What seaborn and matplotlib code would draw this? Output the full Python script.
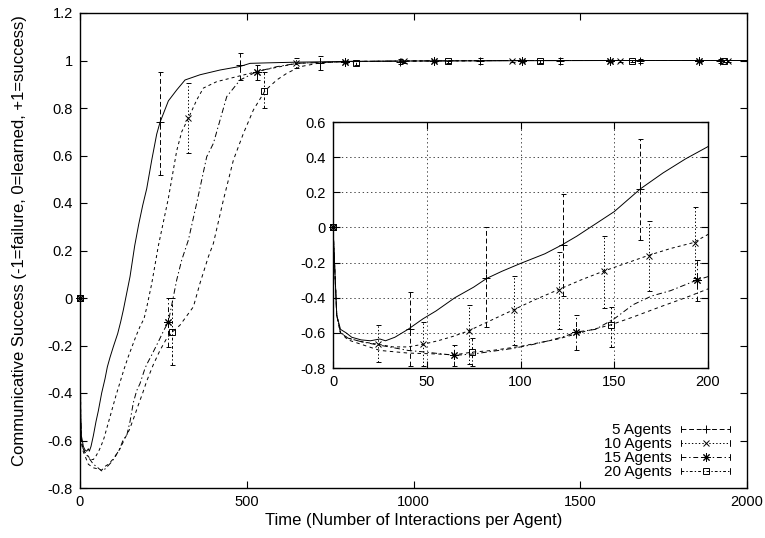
import numpy as np
import matplotlib
matplotlib.use("Agg")
import matplotlib.pyplot as plt
import seaborn as sns
from matplotlib.lines import Line2D
from matplotlib.legend_handler import HandlerLine2D

# ---- averaged curves (time, communicative success) ----
t5 = [0, 1, 2, 4, 7, 10, 15, 20, 25, 28, 33, 40, 48, 55, 65, 75, 82, 90, 100, 113,
      122, 130, 140, 150, 164, 176, 188, 200, 215, 230, 240, 265, 290, 315, 360, 420,
      480, 510, 560, 650, 800, 1000, 1300, 1600, 2000]
y5 = [0, -0.25, -0.5, -0.58, -0.6, -0.625, -0.64, -0.645, -0.635, -0.645, -0.625, -0.58,
      -0.52, -0.475, -0.40, -0.34, -0.29, -0.25, -0.205, -0.15, -0.10, -0.05, 0.02, 0.09,
      0.22, 0.31, 0.39, 0.46, 0.58, 0.69, 0.74, 0.83, 0.876, 0.918, 0.94, 0.96, 0.975,
      0.988, 0.99, 0.993, 0.996, 0.998, 0.999, 1.0, 1.0]

t10 = [0, 1, 2, 4, 8, 15, 24, 32, 40, 48, 56, 64, 72, 84, 96, 108, 120, 132, 144, 156,
       168, 180, 192, 200, 215, 235, 265, 290, 305, 325, 350, 370, 410, 470, 550, 650,
       800, 1000, 1300, 1600, 2000]
y10 = [0, -0.25, -0.5, -0.6, -0.63, -0.65, -0.665, -0.68, -0.68, -0.665, -0.645, -0.62,
       -0.59, -0.53, -0.47, -0.41, -0.355, -0.30, -0.25, -0.205, -0.16, -0.12, -0.087,
       -0.04, 0.06, 0.22, 0.42, 0.62, 0.70, 0.757, 0.834, 0.884, 0.911, 0.932, 0.96,
       0.988, 0.995, 0.998, 1.0, 1.0, 1.0]

t15 = [0, 1, 2, 4, 8, 15, 22, 30, 40, 50, 58, 65, 75, 85, 95, 105, 115, 122, 130, 140,
       150, 160, 170, 180, 194, 200, 215, 235, 250, 265, 290, 305, 325, 350, 380, 400,
       440, 480, 530, 590, 650, 800, 1000, 1300, 1600, 2000]
y15 = [0, -0.25, -0.5, -0.6, -0.63, -0.65, -0.665, -0.68, -0.70, -0.71, -0.72, -0.728,
       -0.72, -0.705, -0.69, -0.67, -0.645, -0.625, -0.595, -0.58, -0.52, -0.44, -0.39,
       -0.36, -0.30, -0.28, -0.24, -0.184, -0.14, -0.10, 0.076, 0.16, 0.244, 0.40, 0.595,
       0.651, 0.848, 0.918, 0.953, 0.974, 0.988, 0.996, 0.998, 1.0, 1.0, 1.0]

t20 = [0, 1, 2, 4, 8, 15, 25, 40, 55, 65, 74, 85, 100, 120, 135, 148, 160, 175, 188,
       200, 220, 240, 260, 278, 300, 340, 360, 385, 400, 430, 460, 490, 520, 555, 590,
       620, 660, 720, 800, 1000, 1300, 1600, 2000]
y20 = [0, -0.25, -0.5, -0.6, -0.64, -0.665, -0.70, -0.715, -0.72, -0.725, -0.71, -0.70,
       -0.677, -0.635, -0.59, -0.555, -0.51, -0.45, -0.40, -0.35, -0.28, -0.22, -0.17,
       -0.142, -0.114, -0.037, 0.063, 0.174, 0.23, 0.413, 0.581, 0.693, 0.792, 0.873,
       0.918, 0.946, 0.974, 0.99, 0.996, 0.998, 1.0, 1.0, 1.0]

# ---- error bar samples, main plot ----
e5_t = [0, 240, 480, 720, 960, 1200, 1440, 1680, 1920]
e5_y = [0, 0.74, 0.98, 0.99, 0.995, 0.997, 0.998, 0.999, 1.0]
e5_lo = [0, 0.518, 0.918, 0.96, 0.985, 0.985, 0.985, 0.99, 0.99]
e5_hi = [0, 0.953, 1.03, 1.02, 1.008, 1.01, 1.01, 1.007, 1.007]

e10_t = [0, 324, 648, 972, 1296, 1620, 1944]
e10_y = [0, 0.757, 0.988, 0.996, 0.998, 0.999, 1.0]
e10_lo = [0, 0.609, 0.97, 0.99, 0.993, 0.995, 0.995]
e10_hi = [0, 0.904, 1.01, 1.0, 1.003, 1.003, 1.003]

e15_t = [0, 265, 530, 795, 1060, 1325, 1590, 1855]
e15_y = [0, -0.10, 0.953, 0.995, 0.997, 0.998, 0.999, 1.0]
e15_lo = [0, -0.205, 0.918, 0.99, 0.993, 0.995, 0.995, 0.995]
e15_hi = [0, 0.0, 0.98, 1.0, 1.0, 1.002, 1.002, 1.003]

e20_t = [0, 276, 552, 828, 1104, 1380, 1656, 1932]
e20_y = [0, -0.142, 0.873, 0.99, 0.996, 0.998, 0.999, 1.0]
e20_lo = [0, -0.28, 0.80, 0.98, 0.99, 0.99, 0.995, 0.995]
e20_hi = [0, 0.0, 0.953, 1.0, 1.0, 1.003, 1.003, 1.003]

# ---- error bar samples, inset ----
i5_t = [0, 40.9, 81.8, 122.7, 163.6]
i5_y = [0, -0.578, -0.29, -0.10, 0.22]
i5_lo = [0, -0.79, -0.565, -0.39, -0.07]
i5_hi = [0, -0.365, 0.0, 0.19, 0.505]

i10_t = [0, 24.1, 48.2, 72.3, 96.4, 120.5, 144.6, 168.7, 192.8]
i10_y = [0, -0.665, -0.665, -0.59, -0.47, -0.355, -0.25, -0.16, -0.087]
i10_lo = [0, -0.767, -0.79, -0.78, -0.67, -0.58, -0.46, -0.36, -0.29]
i10_hi = [0, -0.557, -0.54, -0.44, -0.275, -0.14, -0.047, 0.038, 0.117]

i15_t = [0, 64.7, 129.4, 194.1]
i15_y = [0, -0.728, -0.595, -0.30]
i15_lo = [0, -0.79, -0.695, -0.42]
i15_hi = [0, -0.67, -0.50, -0.185]

i20_t = [0, 74, 148]
i20_y = [0, -0.71, -0.555]
i20_lo = [0, -0.79, -0.68]
i20_hi = [0, -0.63, -0.45]

labels = ["5 Agents", "10 Agents", "15 Agents", "20 Agents"]
main_yticks = [-0.8, -0.6, -0.4, -0.2, 0, 0.2, 0.4, 0.6, 0.8, 1, 1.2]
inset_yticks = [-0.8, -0.6, -0.4, -0.2, 0, 0.2, 0.4, 0.6]

curves = [(t5, y5), (t10, y10), (t15, y15), (t20, y20)]
main_err = [(e5_t, e5_y, e5_lo, e5_hi), (e10_t, e10_y, e10_lo, e10_hi),
            (e15_t, e15_y, e15_lo, e15_hi), (e20_t, e20_y, e20_lo, e20_hi)]
inset_err = [(i5_t, i5_y, i5_lo, i5_hi), (i10_t, i10_y, i10_lo, i10_hi),
             (i15_t, i15_y, i15_lo, i15_hi), (i20_t, i20_y, i20_lo, i20_hi)]

curve_ls = ["-", (0, (2.2, 2.2)), (0, (4, 2, 1, 2)), (0, (2.5, 2.5))]
err_ls = [(0, (3.5, 2)), (0, (1, 1.5)), (0, (3.5, 2, 1, 2)), (0, (2, 1.5, 1, 1.5))]
markers = ["+", "x", (8, 2, 0), "s"]
msizes = [6, 5, 6, 4.5]

sns.set_theme(style="white")
plt.rcParams['font.family'] = ['Liberation Sans', 'DejaVu Sans']
plt.rcParams['font.size'] = 10.5
plt.rcParams['axes.unicode_minus'] = False
plt.rcParams['lines.scale_dashes'] = False
for k in ['text.color', 'axes.labelcolor', 'xtick.color', 'ytick.color']:
    plt.rcParams[k] = 'black'

fig = plt.figure(figsize=(7.65, 5.38), dpi=100)
ax = fig.add_axes([80 / 765, 50 / 538, 667 / 765, 475 / 538])
ax_in = fig.add_axes([333 / 765, 170 / 538, 375 / 765, 246 / 538])


def draw(a, errs):
    for i, (t, y) in enumerate(curves):
        sns.lineplot(x=t, y=y, ax=a, color="black", lw=0.7, linestyle=curve_ls[i], sort=False)
    for i, (et, ey, elo, ehi) in enumerate(errs):
        et = np.array(et); ey = np.array(ey)
        yerr = [ey - np.array(elo), np.array(ehi) - ey]
        eb = a.errorbar(et, ey, yerr=yerr, fmt="none", ecolor="black", elinewidth=0.7,
                        capsize=1.8, capthick=0.7)
        eb[2][0].set_linestyle(err_ls[i])
        a.plot(et, ey, ls="none", marker=markers[i], ms=msizes[i], mec="black",
               mfc="none", mew=0.7, clip_on=False, zorder=5)


draw(ax, main_err)
draw(ax_in, inset_err)

for a in (ax, ax_in):
    for s in a.spines.values():
        s.set_visible(True)
        s.set_color("black")
        s.set_linewidth(1.0)
    a.tick_params(direction="in", length=4.8, width=0.8, top=True, right=True,
                  bottom=True, left=True, labelsize=10.5, pad=5, colors="black")
    a.set_facecolor("white")

ax.set_xlim(0, 2000)
ax.set_ylim(-0.8, 1.2)
ax.set_xticks([0, 500, 1000, 1500, 2000])
ax.set_yticks(main_yticks)
ax.set_yticklabels(["%g" % v for v in main_yticks])

ax_in.set_xlim(0, 200)
ax_in.set_ylim(-0.8, 0.6)
ax_in.set_xticks([0, 50, 100, 150, 200])
ax_in.set_yticks(inset_yticks)
ax_in.set_yticklabels(["%g" % v for v in inset_yticks])
ax_in.grid(True, linestyle=(0, (1, 2)), color="black", lw=0.5)
ax_in.set_axisbelow(True)

ax.set_xlabel("Time (Number of Interactions per Agent)")
ax.set_ylabel("Communicative Success (-1=failure, 0=learned, +1=success)")
ax.xaxis.label.set_va("center")
ax.yaxis.label.set_va("center")
ax.xaxis.set_label_coords(0.5, -33 / 475)
ax.yaxis.set_label_coords(-60 / 667, 0.52)


class CapHandler(HandlerLine2D):
    def create_artists(self, legend, orig_handle, xdescent, ydescent, width, height,
                       fontsize, trans):
        arts = super().create_artists(legend, orig_handle, xdescent, ydescent, width,
                                      height, fontsize, trans)
        y = height / 2 - ydescent
        h = 0.3 * height
        for x in (-xdescent, -xdescent + width):
            arts.append(Line2D([x, x], [y - h, y + h], color="black", lw=0.7,
                               transform=trans))
        return arts


handles = [Line2D([], [], color="black", lw=0.7, ls=err_ls[i], marker=markers[i],
                  ms=msizes[i], mfc="none", mec="black", mew=0.7) for i in range(4)]
ax.legend(handles, labels, loc="lower right", bbox_to_anchor=(0.975, 0.018),
          frameon=False, markerfirst=False, handlelength=3.2, handletextpad=0.65,
          labelspacing=0.0, borderpad=0, borderaxespad=0, numpoints=1,
          handler_map={Line2D: CapHandler()})

fig.savefig("out.png", dpi=100)
